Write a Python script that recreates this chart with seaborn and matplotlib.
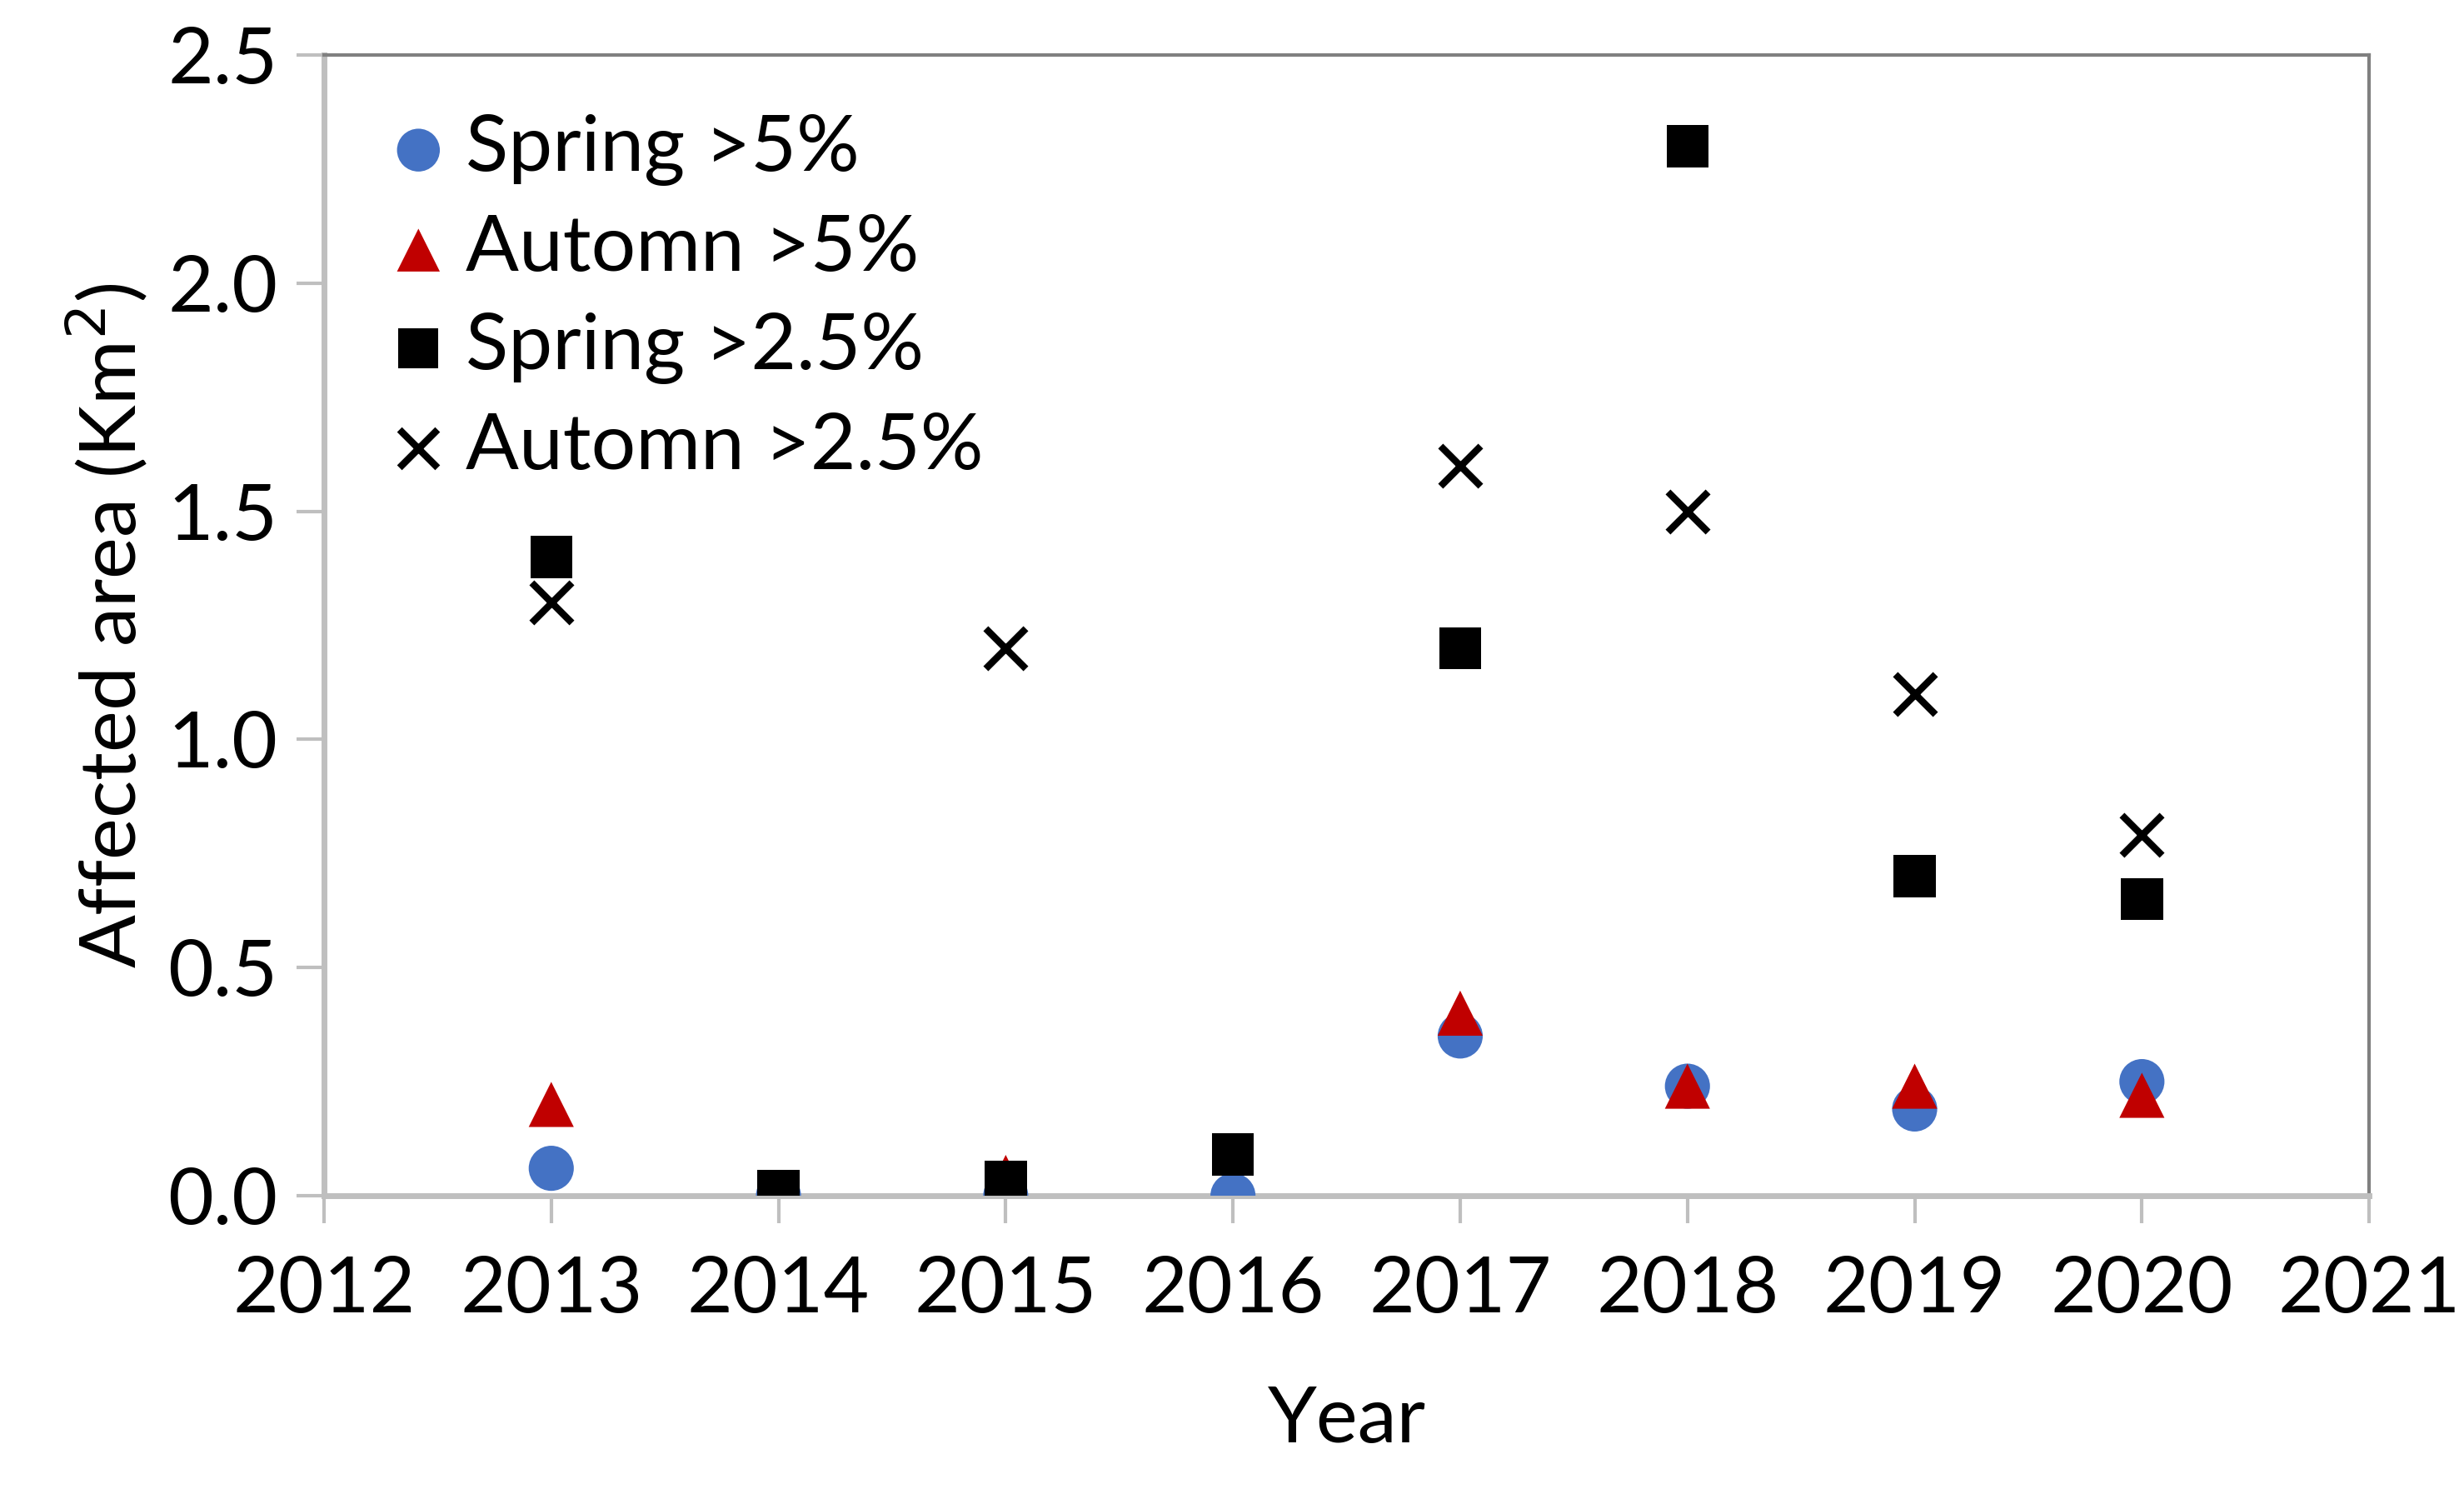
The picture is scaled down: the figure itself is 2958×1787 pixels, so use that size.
import numpy as np
import pandas as pd
import seaborn as sns
import matplotlib.pyplot as plt
from matplotlib.ticker import FormatStrFormatter

sns.set_theme(style="white")
plt.rcParams['font.family'] = ['Lato', 'DejaVu Sans']
plt.rcParams['text.color'] = 'black'
plt.rcParams['axes.labelcolor'] = 'black'
plt.rcParams['xtick.color'] = 'black'
plt.rcParams['ytick.color'] = 'black'

years = [2013, 2014, 2015, 2016, 2017, 2018, 2019, 2020]
spring_5 = [0.06, 0.0, 0.0, 0.0, 0.35, 0.24, 0.19, 0.25]
autumn_5 = [0.20, 0.0, 0.04, np.nan, 0.40, 0.24, 0.24, 0.22]
spring_25 = [1.40, 0.01, 0.03, 0.09, 1.20, 2.30, 0.70, 0.65]
autumn_25_years = [2013, 2015, 2017, 2018, 2019, 2020]
autumn_25 = [1.30, 1.20, 1.60, 1.50, 1.10, 0.79]

series = [
    ('Spring >5%', years, spring_5, 'o', '#4472C4'),
    ('Automn >5%', years, autumn_5, '^', '#C00000'),
    ('Spring >2.5%', years, spring_25, 's', 'black'),
    ('Automn >2.5%', autumn_25_years, autumn_25, 'x', 'black'),
]

fig, ax = plt.subplots(figsize=(14.79, 8.935), dpi=200)
fig.subplots_adjust(left=0.1315, right=0.9615, top=0.963, bottom=0.197)

for name, xs, ys, mk, col in series:
    df = pd.DataFrame({'Year': xs, 'Area': ys}).dropna()
    if mk == 'x':
        sns.scatterplot(data=df, x='Year', y='Area', marker=mk, color=col,
                        s=300, linewidth=3, label=name, ax=ax, zorder=3)
    else:
        sns.scatterplot(data=df, x='Year', y='Area', marker=mk, color=col,
                        s=380 if mk != 's' else 330, edgecolor='none',
                        label=name, ax=ax, zorder=3)

ax.set_xlim(2012, 2021)
ax.set_ylim(0, 2.5)
ax.set_xticks(range(2012, 2022))
ax.set_yticks([0, 0.5, 1.0, 1.5, 2.0, 2.5])
ax.yaxis.set_major_formatter(FormatStrFormatter('%.1f'))
ax.tick_params(axis='both', labelsize=34, length=12, width=1.5,
               color='#BFBFBF', direction='out', pad=8)
ax.tick_params(axis='x', pad=14)
ax.tick_params(left=True, bottom=True)

for side in ['left', 'bottom']:
    ax.spines[side].set_color('#BFBFBF')
    ax.spines[side].set_linewidth(2.5)
for side in ['top', 'right']:
    ax.spines[side].set_color('#808080')
    ax.spines[side].set_linewidth(1.5)

ax.set_xlabel('Year', fontsize=34, labelpad=26)
ax.set_ylabel('Affected area (Km$^2$)', fontsize=34, labelpad=8)

leg = ax.legend(loc='upper left', frameon=False, fontsize=34,
                handlelength=0.9, handletextpad=0.15, labelspacing=0.36,
                borderaxespad=0.35, borderpad=0.4, markerscale=0.95)

fig.savefig('out.png', dpi=200)
